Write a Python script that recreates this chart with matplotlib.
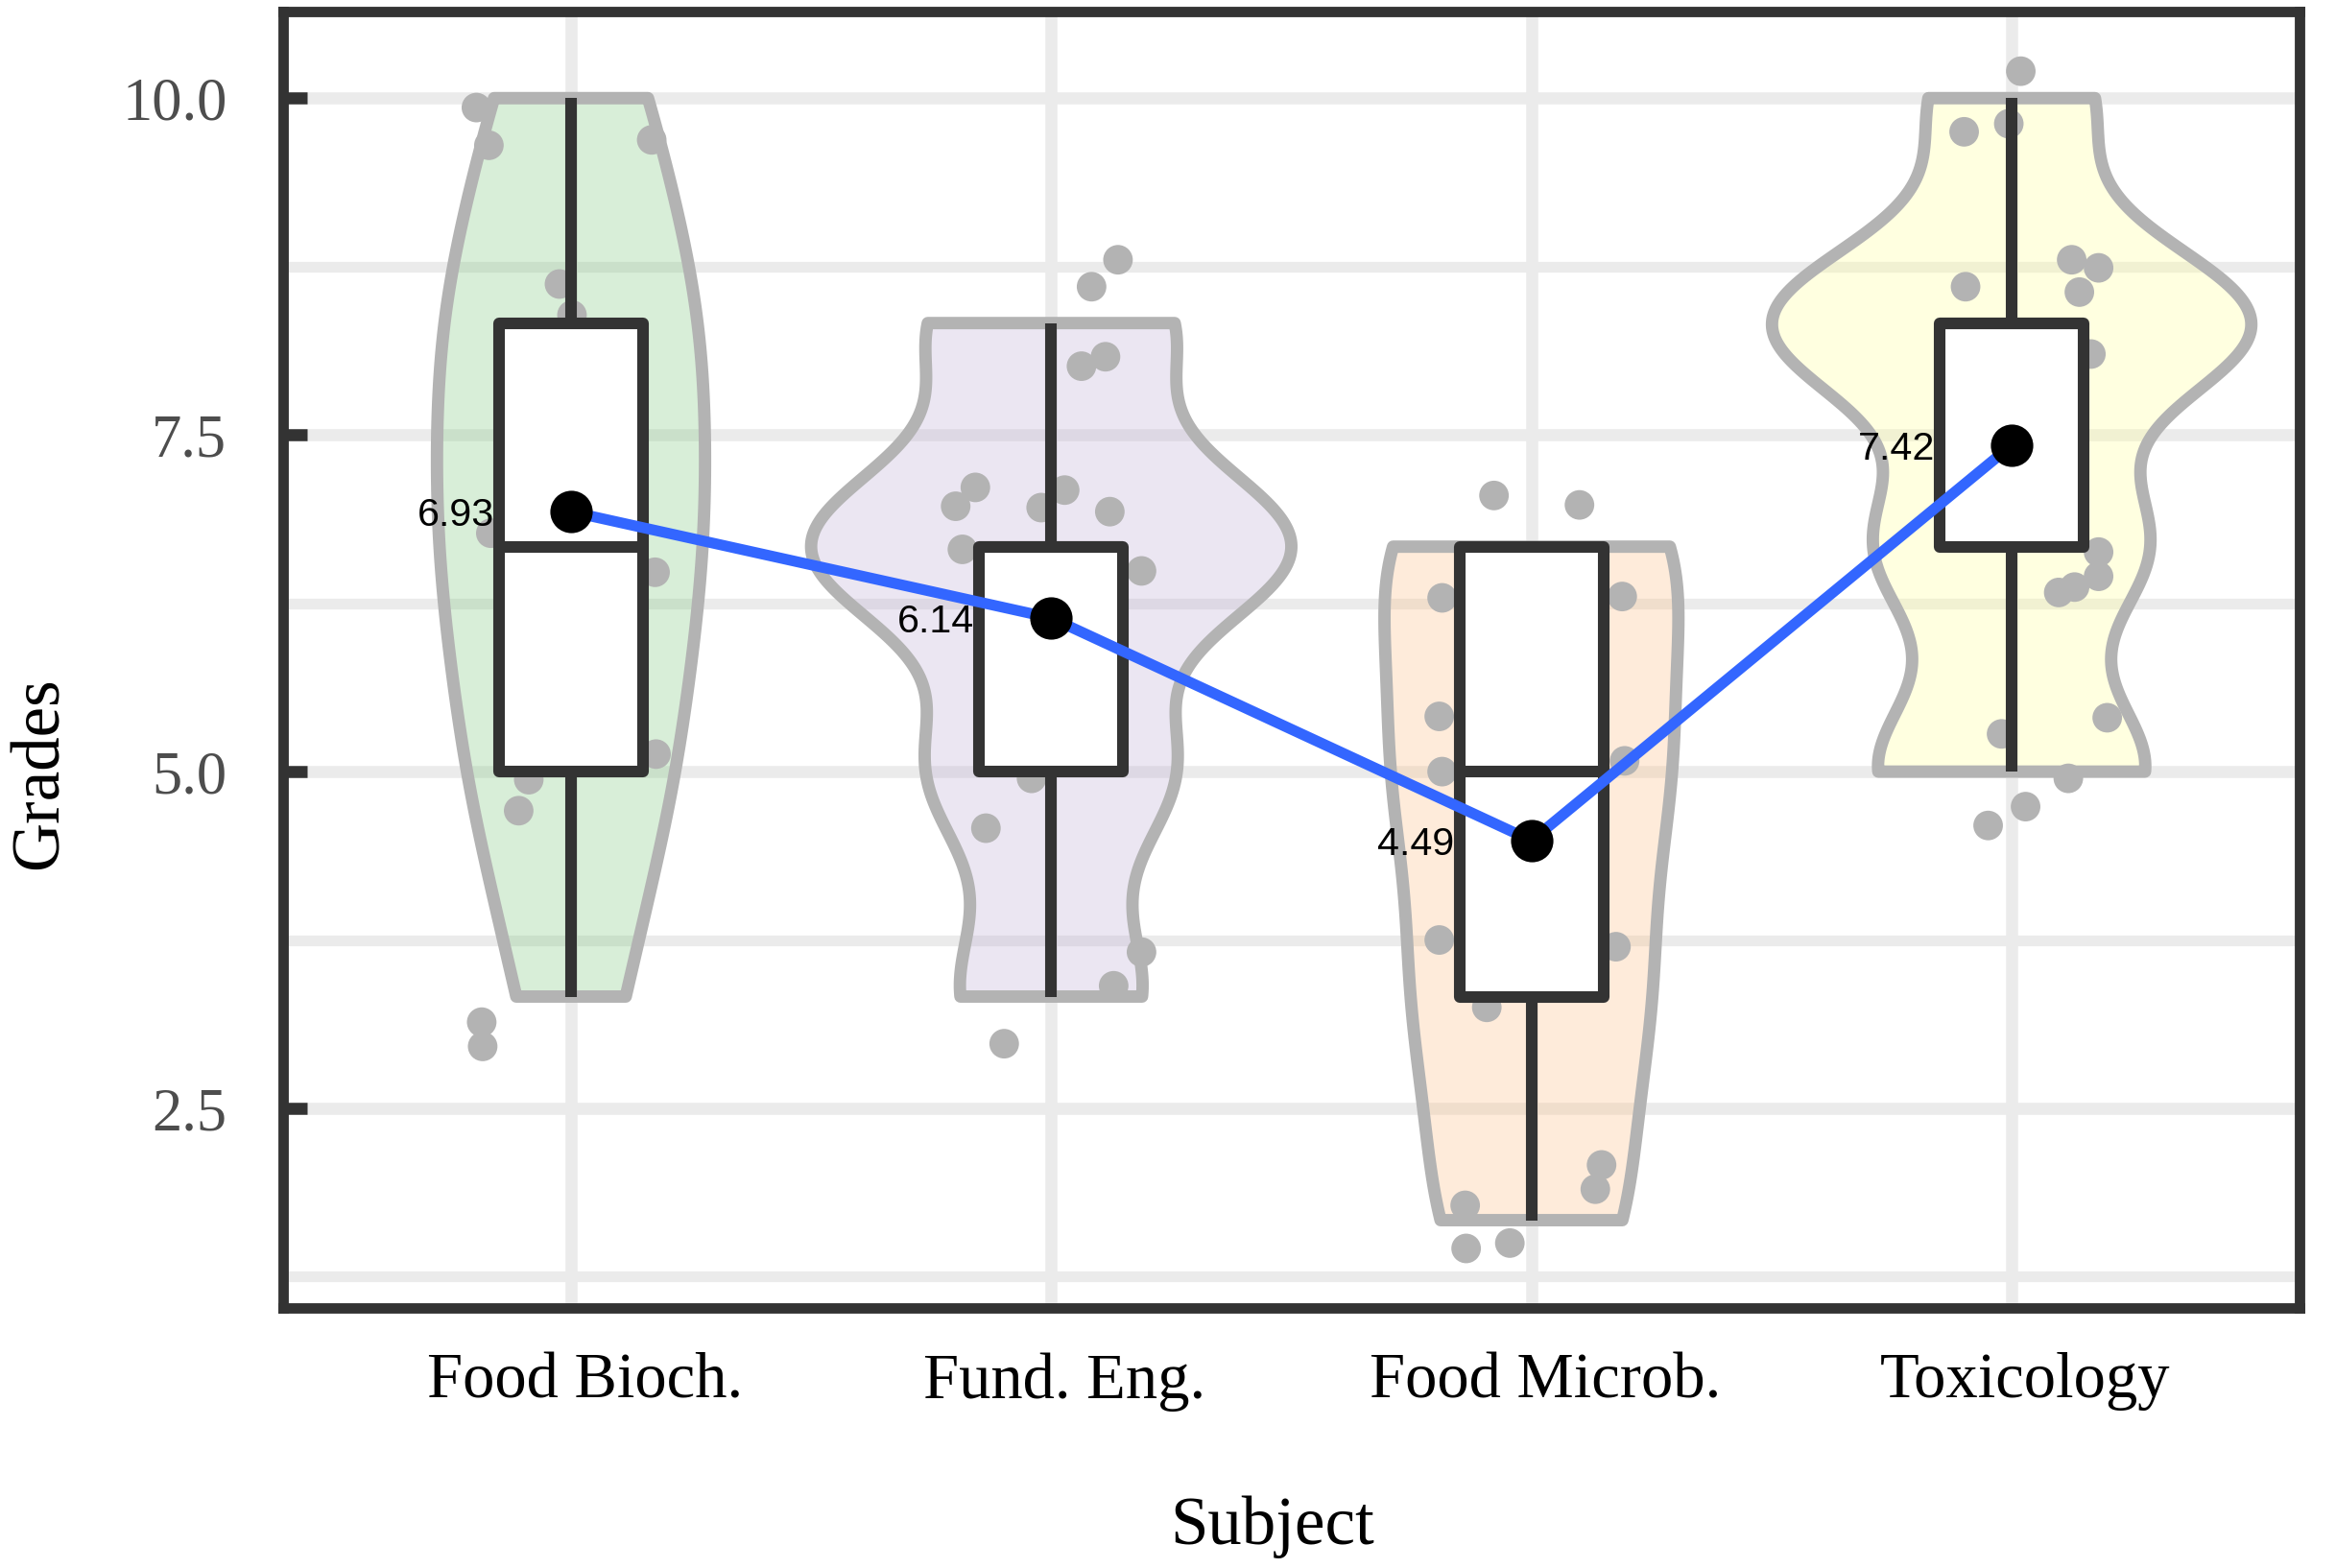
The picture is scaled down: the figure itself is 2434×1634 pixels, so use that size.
import numpy as np
import matplotlib
matplotlib.use('Agg')
import matplotlib.pyplot as plt
import matplotlib.transforms as mtransforms
from matplotlib.colors import to_rgba
from matplotlib.ticker import FixedLocator

plt.rcParams['font.family'] = ['Liberation Serif', 'DejaVu Serif']

subjects = ['Food Bioch.', 'Fund. Eng.', 'Food Microb.', 'Toxicology']
fill_colors = ['#7FC97F', '#BEAED4', '#FDC086', '#FFFF99']

# raw grades per subject (grades come in steps of 10/6)
bioch_grades = [3.33, 3.33, 5.0, 5.0, 5.0, 5.0, 6.67, 6.67, 6.67, 6.67, 6.67,
                8.33, 8.33, 8.33, 8.33, 8.33, 10.0, 10.0, 10.0]
fund_grades = [3.33, 3.33, 3.33, 5.0, 5.0, 5.0, 5.0, 6.67, 6.67, 6.67, 6.67,
               6.67, 6.67, 6.67, 6.67, 8.33, 8.33, 8.33, 8.33]
micro_grades = [1.67, 1.67, 1.67, 1.67, 1.67, 3.33, 3.33, 3.33, 3.33, 3.33, 3.33,
                5.0, 5.0, 5.0, 5.0, 5.0, 5.0, 5.0,
                6.67, 6.67, 6.67, 6.67, 6.67, 6.67, 6.67, 6.67]
tox_grades = [5.0, 5.0, 5.0, 5.0, 5.0, 6.67, 6.67, 6.67, 6.67, 6.67,
              8.33, 8.33, 8.33, 8.33, 8.33, 8.33, 8.33, 8.33, 8.33,
              10.0, 10.0, 10.0]
all_grades = [bioch_grades, fund_grades, micro_grades, tox_grades]

# jittered points as they appear on the chart (horizontal offset, grade)
bioch_jit_x = [-0.197, -0.171, 0.168, -0.024, 0.002, -0.167, 0.175, 0.177, -0.088, -0.109, -0.186, -0.184]
bioch_jit_y = [9.93, 9.65, 9.69, 8.62, 8.39, 6.77, 6.48, 5.13, 4.94, 4.71, 3.14, 2.96]
fund_jit_x = [0.139, 0.084, 0.113, 0.063, -0.158, -0.199, -0.021, 0.028, 0.122, -0.185,
              0.188, -0.041, -0.136, 0.188, 0.130, -0.098]
fund_jit_y = [8.80, 8.60, 8.08, 8.01, 7.11, 6.97, 6.96, 7.09, 6.93, 6.65,
              6.49, 4.95, 4.58, 3.66, 3.41, 2.98]
micro_jit_x = [-0.078, 0.100, -0.186, 0.189, -0.192, -0.186, 0.194, -0.192, 0.176, -0.093,
               0.146, 0.133, -0.138, -0.136, -0.045]
micro_jit_y = [7.05, 6.98, 6.29, 6.30, 5.41, 5.00, 5.08, 3.75, 3.70, 3.25,
               2.08, 1.90, 1.78, 1.46, 1.50]
tox_jit_x = [0.019, -0.099, -0.006, 0.125, 0.181, 0.141, -0.096, 0.165, 0.181, 0.181,
             0.131, 0.098, 0.199, -0.021, 0.118, 0.029, -0.049]
tox_jit_y = [10.20, 9.75, 9.81, 8.80, 8.74, 8.56, 8.60, 8.10, 6.63, 6.45,
             6.37, 6.33, 5.40, 5.28, 4.95, 4.74, 4.60]
jit_x = [bioch_jit_x, fund_jit_x, micro_jit_x, tox_jit_x]
jit_y = [bioch_jit_y, fund_jit_y, micro_jit_y, tox_jit_y]

y_ticks = [2.5, 5.0, 7.5, 10.0]
y_minor = [1.25, 3.75, 6.25, 8.75]


def violin_density(vals, n=512):
    # gaussian kde with R's nrd0 bandwidth, trimmed to the data range
    x = np.asarray(vals, dtype=float)
    q75, q25 = np.percentile(x, [75, 25])
    lo = min(x.std(ddof=1), (q75 - q25) / 1.34)
    bw = 0.9 * lo * len(x) ** -0.2
    ys = np.linspace(x.min(), x.max(), n)
    dens = np.exp(-0.5 * ((ys[:, None] - x[None, :]) / bw) ** 2).sum(axis=1)
    dens /= len(x) * bw * np.sqrt(2 * np.pi)
    return ys, dens


positions = np.arange(1, len(subjects) + 1)

fig = plt.figure(figsize=(2434 / 300, 1634 / 300), dpi=300)
ax = fig.add_axes([0.1211, 0.166, 0.8634, 0.8264])

# violins, scaled by area (common max density)
dens_list = [violin_density(g) for g in all_grades]
max_dens = max(d.max() for _, d in dens_list)
for pos, (ys, d), col in zip(positions, dens_list, fill_colors):
    half = d / max_dens * 0.5
    xs = np.concatenate([pos - half, (pos + half)[::-1]])
    yy = np.concatenate([ys, ys[::-1]])
    ax.fill(xs, yy, facecolor=to_rgba(col, 0.3), edgecolor='#B3B3B3',
            linewidth=3.1, joinstyle='round', zorder=1)

# jittered points
for pos, xo, yv in zip(positions, jit_x, jit_y):
    ax.scatter(pos + np.asarray(xo), yv, s=7.4 ** 2, color='#B3B3B3',
               edgecolors='none', zorder=2)

# boxplots
line_kw = dict(color='#333333', linewidth=2.9, solid_capstyle='butt')
ax.boxplot(all_grades, positions=positions, widths=0.3, whis=1.5,
           showfliers=False, showcaps=False, patch_artist=True,
           boxprops=dict(facecolor='white', edgecolor='#333333', linewidth=2.9,
                         joinstyle='round'),
           medianprops=line_kw, whiskerprops=line_kw, zorder=3)

# means
means = [np.mean(g) for g in all_grades]
ax.plot(positions, means, color='#3366FF', linewidth=2.7, zorder=4)
ax.plot(positions, means, 'o', color='black', markersize=9.6, zorder=5)
for pos, m in zip(positions, means):
    ax.text(pos - 0.16, m, f'{m:.2f}', ha='right', va='center_baseline',
            fontsize=9.9, family=['Liberation Sans', 'DejaVu Sans'],
            color='black', zorder=6)

ax.set_xlim(0.4, 4.6)
ax.set_ylim(1.02, 10.64)
ax.set_xticks(positions)
ax.set_xticklabels(subjects)
ax.set_yticks(y_ticks)
ax.set_yticklabels([f'{t:.1f}' for t in y_ticks])
ax.yaxis.set_minor_locator(FixedLocator(y_minor))

ax.set_axisbelow(True)
ax.grid(which='major', color='#EBEBEB', linewidth=3.0)
ax.grid(which='minor', axis='y', color='#EBEBEB', linewidth=2.7)

ax.tick_params(axis='y', which='major', direction='in', length=6, width=3,
               color='#333333', pad=14, labelsize=15, labelcolor='#4D4D4D')
ax.tick_params(axis='x', which='major', length=0, pad=11.2, labelsize=16,
               labelcolor='black')
ax.tick_params(which='minor', length=0)
# the subject labels sit slightly right of the category centres
shift = mtransforms.ScaledTranslation(3.4 / 72, 0, fig.dpi_scale_trans)
for lab in ax.get_xticklabels():
    lab.set_transform(lab.get_transform() + shift)
for sp in ax.spines.values():
    sp.set_color('#333333')
    sp.set_linewidth(2.6)

ax.set_xlabel('Subject', fontsize=17)
ax.xaxis.set_label_coords(0.4903, -0.1447)
ax.set_ylabel('Grades', fontsize=17, va='center')
ax.yaxis.set_label_coords(-0.12, 0.4124)

fig.savefig('out.png', dpi=300)
